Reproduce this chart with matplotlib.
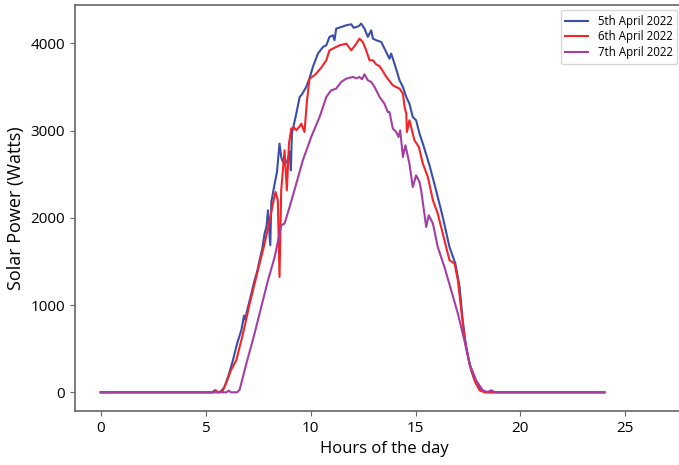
import matplotlib
matplotlib.use('Agg')
import matplotlib.pyplot as plt

plt.rcParams['font.family'] = ['Open Sans', 'DejaVu Sans']

# readings taken off the curves: hour of day, solar power in watts
hours_5th = [0, 5.3, 5.45, 5.55, 5.7, 5.9, 6.1, 6.3, 6.5, 6.7, 6.83, 6.9, 6.94,
             7.1, 7.33, 7.45, 7.57, 7.7, 7.81, 7.9, 7.97, 8.08, 8.13, 8.29, 8.4,
             8.52, 8.6, 8.65, 8.75, 8.87, 8.95, 9.0, 9.06, 9.11, 9.32, 9.48, 9.6,
             9.79, 9.95, 10.11, 10.35, 10.59, 10.75, 10.9, 11.06, 11.14, 11.22,
             11.46, 11.7, 11.94, 12.05, 12.18, 12.3, 12.41, 12.57, 12.73, 12.89,
             12.97, 13.13, 13.37, 13.6, 13.76, 13.84, 14.0, 14.24, 14.4, 14.56,
             14.71, 14.87, 15.03, 15.19, 15.35, 15.67, 15.98, 16.3, 16.62, 16.9,
             17.1, 17.25, 17.41, 17.65, 17.89, 18.13, 18.37, 24]
power_5th = [0, 0, 25, 0, 5, 60, 200, 367, 560, 711, 880, 830, 902,
             1055, 1284, 1380, 1514, 1650, 1823, 1900, 2087, 1686, 2182, 2394, 2527,
             2852, 2700, 2660, 2620, 2641, 2700, 2760, 2546, 2967, 3196, 3386, 3420,
             3501, 3600, 3731, 3884, 3960, 3979, 4075, 4094, 4037, 4170,
             4189, 4209, 4220, 4180, 4189, 4200, 4228, 4170, 4075, 4151,
             4056, 4037, 4017, 3903, 3826, 3884, 3768, 3578, 3501, 3386,
             3310, 3157, 3119, 2967, 2852, 2600, 2316, 2010, 1666, 1476,
             1208, 826, 520, 252, 100, 23, 0, 0]

hours_6th = [0, 5.4, 5.5, 5.6, 5.8, 6.0, 6.2, 6.46, 6.78, 7.1, 7.49, 7.81, 8.05,
             8.24, 8.33, 8.44, 8.52, 8.6, 8.76, 8.87, 8.97, 9.08, 9.2, 9.32, 9.48,
             9.56, 9.71, 9.83, 9.95, 10.1, 10.27, 10.5, 10.75, 10.9, 11.06, 11.38,
             11.7, 11.94, 12.18, 12.33, 12.49, 12.65, 12.81, 12.97, 13.13, 13.29,
             13.45, 13.6, 13.92, 14.24, 14.4, 14.48, 14.56, 14.59, 14.71, 14.95,
             15.16, 15.35, 15.59, 15.83, 16.06, 16.3, 16.62, 16.86, 17.02, 17.18,
             17.33, 17.57, 17.81, 18.05, 18.3, 24]
power_6th = [0, 0, 20, 0, 10, 120, 250, 367, 673, 1017, 1399, 1705, 1972,
             2202, 2297, 2202, 1322, 2316, 2775, 2316, 2852, 3024, 3040, 3005, 3050,
             3081, 2985, 3349, 3597, 3620, 3655, 3720, 3807, 3922, 3941, 3979,
             3998, 3922, 3998, 4056, 4017, 3922, 3807, 3807, 3760, 3740,
             3680, 3620, 3520, 3482, 3425, 3272, 3196, 2985, 3119, 2890,
             2813, 2622, 2469, 2202, 2049, 1820, 1514, 1476, 1284, 940,
             634, 329, 138, 23, 0, 0]

hours_7th = [0, 6.0, 6.1, 6.2, 6.5, 6.62, 6.94, 7.33, 7.65, 7.97, 8.29, 8.6, 8.76,
             9.0, 9.32, 9.63, 10.03, 10.43, 10.75, 10.98, 11.22, 11.46, 11.7, 12.02,
             12.2, 12.33, 12.45, 12.57, 12.73, 12.89, 13.05, 13.29, 13.52, 13.68,
             13.76, 13.92, 14.08, 14.19, 14.27, 14.4, 14.52, 14.71, 14.87, 15.03,
             15.19, 15.27, 15.51, 15.63, 15.83, 16.06, 16.38, 16.7, 17.02, 17.33,
             17.57, 17.89, 18.2, 18.44, 18.6, 18.8, 24]
power_7th = [0, 0, 20, 0, 0, 30, 329, 673, 979, 1284, 1552, 1915, 1935,
             2125, 2393, 2660, 2928, 3157, 3386, 3463, 3482, 3559, 3597, 3616,
             3600, 3616, 3590, 3647, 3578, 3559, 3501, 3386, 3310, 3214,
             3214, 3024, 2985, 2928, 3005, 2698, 2833, 2622, 2354, 2488,
             2412, 2316, 1896, 2030, 1935, 1666, 1437, 1170, 902, 596,
             329, 138, 23, 3, 23, 0, 0]

labels = ['5th April 2022', '6th April 2022', '7th April 2022']
colors = ['#3a4da8', '#f42428', '#a43ea4']

fig = plt.figure(figsize=(6.79, 4.65), dpi=100)
# the original axes run a little past the right edge of the picture
ax = fig.add_axes([0.110, 0.116, 0.913, 0.873])

ax.plot(hours_5th, power_5th, color=colors[0], lw=1.5, label=labels[0])
ax.plot(hours_6th, power_6th, color=colors[1], lw=1.5, label=labels[1])
ax.plot(hours_7th, power_7th, color=colors[2], lw=1.5, label=labels[2])

ax.set_xlim(-1.24, 28.3)
ax.set_ylim(-215, 4440)
ax.set_xticks([0, 5, 10, 15, 20, 25])
ax.set_yticks([0, 1000, 2000, 3000, 4000])
ax.tick_params(labelsize=11)
ax.spines['right'].set_visible(False)
for s in ['left', 'top', 'bottom']:
    ax.spines[s].set_color('#666666')
    ax.spines[s].set_linewidth(1.2)
ax.tick_params(color='#666666')

ax.set_xlabel('Hours of the day', fontsize=12, labelpad=4)
ax.set_ylabel('Solar Power (Watts)', fontsize=13)

ax.legend(loc='upper right', fontsize=8.3, labelspacing=0.25,
          bbox_to_anchor=(677 / 679, 1 - 10 / 465),
          bbox_transform=fig.transFigure, borderaxespad=0)

fig.savefig('out.png', dpi=100)
